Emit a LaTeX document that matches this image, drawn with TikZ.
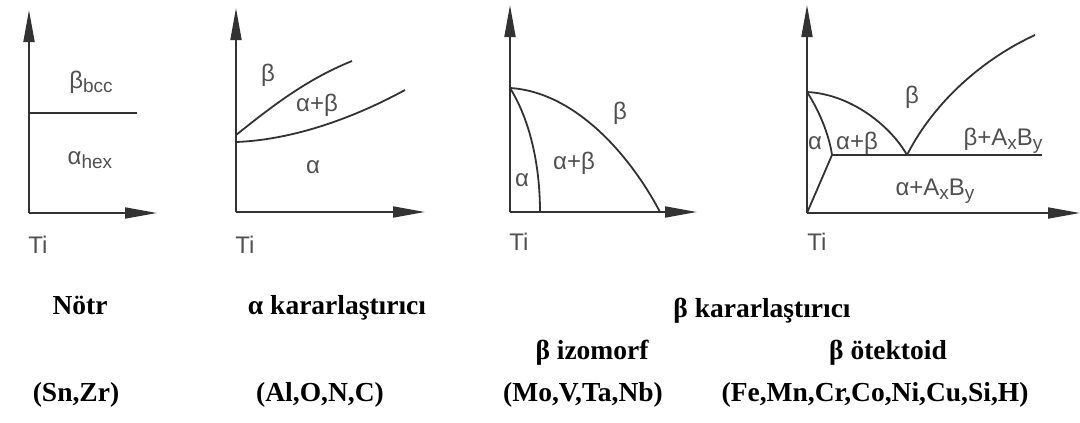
\documentclass[tikz,border=0pt]{standalone}
\usepackage{fontspec}
\setmainfont{Liberation Serif}
\newfontfamily\etiketfont{Liberation Sans}
\usetikzlibrary{arrows.meta}
\definecolor{Cizgi}{RGB}{50,50,50}
\definecolor{Yazi}{RGB}{80,80,80}
\newcommand{\altindis}[1]{\raisebox{-0.35ex}{\fontsize{19}{20}\selectfont #1}}
\tikzset{eksen/.style={-{Triangle[length=32pt,width=11pt]}, draw=Cizgi, line width=1.8pt}}
\tikzset{sinir/.style={draw=Cizgi, line width=1.8pt}}
\tikzset{faz/.style={text=Yazi, font=\etiketfont\fontsize{24}{26}\selectfont, inner sep=0pt}}
\tikzset{baslik/.style={font=\bfseries\fontsize{27.5}{30}\selectfont, inner sep=0pt, anchor=base}}

\begin{document}
\begin{tikzpicture}[x=1pt, y=-1pt]
\useasboundingbox (0,0) rectangle (1080,423);
% Notr
\coordinate (o1) at (29,213);
\draw[eksen] (o1) -- (29,10);
\draw[eksen] (o1) -- (157,213);
\draw[sinir] (29,113) -- (137,113);
\node[faz] (b1) at (91,82) {β\altindis{bcc}};
\node[faz] (a1) at (90,160) {α\altindis{hex}};
\node[faz] (ti1) at (38,245) {Ti};
% alfa kararlastirici
\coordinate (o2) at (236,212);
\draw[eksen] (o2) -- (236,8);
\draw[eksen] (o2) -- (425,212);
\draw[sinir] (236,135) .. controls (270,108) and (305,80) .. (352,61);
\draw[sinir] (236,142) .. controls (290,140) and (350,120) .. (405,90);
\node[faz] (b2) at (268,75) {β};
\node[faz] (ab2) at (317,105) {α+β};
\node[faz] (a2) at (313,167) {α};
\node[faz] (ti2) at (245,245) {Ti};
% beta izomorf
\coordinate (o3) at (510,212);
\draw[eksen] (o3) -- (510,5);
\draw[eksen] (o3) -- (697,212);
\draw[sinir] (510,88) .. controls (575,92) and (630,155) .. (660,212);
\draw[sinir] (510,88) .. controls (530,120) and (540,165) .. (540,212);
\node[faz] (b3) at (620,113) {β};
\node[faz] (ab3) at (574,163) {α+β};
\node[faz] (a3) at (522,180) {α};
\node[faz] (ti3) at (519,242) {Ti};
% beta otektoid
\coordinate (o4) at (807,213);
\coordinate (e4) at (907,155);
\draw[eksen] (o4) -- (807,5);
\draw[eksen] (o4) -- (1080,213);
\draw[sinir] (832,155) -- (1042,155);
\draw[sinir] (o4) -- (832,155);
\draw[sinir] (807,92) .. controls (850,94) and (890,125) .. (e4);
\draw[sinir] (807,92) .. controls (822,115) and (830,140) .. (832,155);
\draw[sinir] (e4) .. controls (935,100) and (985,58) .. (1035,35);
\node[faz] (b4) at (912,97) {β};
\node[faz] (bab4) at (1003,141) {β+A\altindis{x}B\altindis{y}};
\node[faz] (aab4) at (935,191) {α+A\altindis{x}B\altindis{y}};
\node[faz] (ab4) at (857,143) {α+β};
\node[faz] (a4) at (815,143) {α};
\node[faz] (ti4) at (817,242) {Ti};
% alt yazilar
\node[baslik] (notr) at (80,314) {Nötr};
\node[baslik] (alfa) at (337,314) {α kararlaştırıcı};
\node[baslik] (beta) at (762,317) {β kararlaştırıcı};
\node[baslik] (izo) at (592,359) {β izomorf};
\node[baslik] (otek) at (888,359) {β ötektoid};
\node[baslik] (snzr) at (76,401) {(Sn,Zr)};
\node[baslik] (alon) at (320,401) {(Al,O,N,C)};
\node[baslik] (mov) at (583,401) {(Mo,V,Ta,Nb)};
\node[baslik] (femn) at (875,401) {(Fe,Mn,Cr,Co,Ni,Cu,Si,H)};
\end{tikzpicture}
\end{document}
